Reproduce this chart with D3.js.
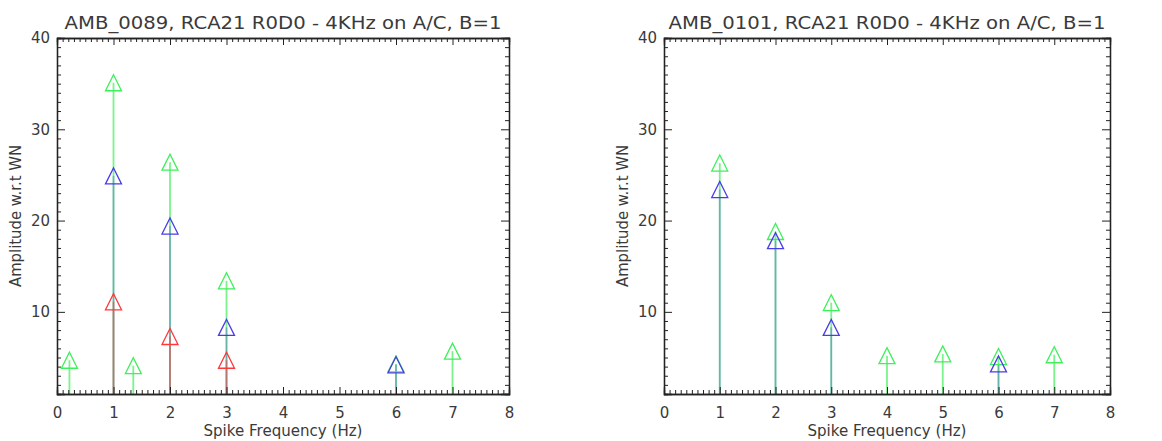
<!DOCTYPE html>
<html><head><meta charset="utf-8">
<script src="https://cdn.jsdelivr.net/npm/d3@7"></script>
<style>
body{margin:0;background:#fff;}
text{font-family:"DejaVu Sans",sans-serif;fill:#3a3a3a;}
</style></head>
<body><svg id="c" width="1162" height="441"></svg>
<script>
// ---- data ----
const titles = ["AMB_0089, RCA21 R0D0 - 4KHz on A/C, B=1", "AMB_0101, RCA21 R0D0 - 4KHz on A/C, B=1"];
const xLabel = "Spike Frequency (Hz)";
const yLabel = "Amplitude w.r.t WN";
const xTicks = [0,1,2,3,4,5,6,7,8];
const yTicks = [10,20,30,40];
// left panel
const leftGreenX = [0.22, 1, 1.35, 2, 3, 6, 7];
const leftGreenY = [4.7, 35.1, 4.1, 26.4, 13.4, 4.3, 5.7];
const leftBlueX  = [1, 2, 3, 6];
const leftBlueY  = [24.9, 19.4, 8.3, 4.2];
const leftRedX   = [1, 2, 3];
const leftRedY   = [11.1, 7.3, 4.7];
// right panel
const rightGreenX = [1, 2, 3, 4, 5, 6, 7];
const rightGreenY = [26.3, 18.8, 11.0, 5.2, 5.4, 5.1, 5.3];
const rightBlueX  = [1, 2, 3, 6];
const rightBlueY  = [23.4, 17.8, 8.3, 4.3];

(function(){
const colors = {green:"#3ef05a", blue:"#4a3ce8", red:"#ff3838"};
const stemOp = {green:0.7, blue:0.35, red:0.5};

const panels = [
  {x0:57, x1:509, title:titles[0], series:[
    {k:"green", xs:leftGreenX, ys:leftGreenY},
    {k:"blue", xs:leftBlueX, ys:leftBlueY},
    {k:"red", xs:leftRedX, ys:leftRedY}]},
  {x0:664, x1:1110, title:titles[1], series:[
    {k:"green", xs:rightGreenX, ys:rightGreenY},
    {k:"blue", xs:rightBlueX, ys:rightBlueY}]}
];
const yTop=38, yBot=394;
const svg = d3.select("#c");
const axisCol = "#222";

panels.forEach(p=>{
  const g = svg.append("g");
  const x = d3.scaleLinear().domain([0,8]).range([p.x0,p.x1]);
  const y = d3.scaleLinear().domain([1,40]).range([yBot,yTop]);
  const minorX = d3.range(0,80).map(d=>d/10).filter(d=>Math.abs(d-Math.round(d))>1e-6);
  const minorY = d3.range(1,41).filter(d=>d%10!==0);

  p.series.forEach(s=>{
    g.append("g").selectAll("line").data(s.xs.map((v,i)=>[v,s.ys[i]])).join("line")
      .attr("x1",d=>x(d[0])).attr("x2",d=>x(d[0]))
      .attr("y1",y(1)).attr("y2",d=>y(d[1]))
      .attr("stroke",colors[s.k]).attr("stroke-width",1.8).attr("stroke-opacity",stemOp[s.k]);
  });
  p.series.forEach(s=>{
    g.append("g").selectAll("path").data(s.xs.map((v,i)=>[v,s.ys[i]])).join("path")
      .attr("d",d=>{const cx=x(d[0]), cy=y(d[1]), h=8; return `M${cx-h},${cy+h}L${cx},${cy-h}L${cx+h},${cy+h}Z`;})
      .attr("fill","none").attr("stroke",colors[s.k]).attr("stroke-width",1.3);
  });

  const mk = (axis, tr)=> g.append("g").attr("transform",tr).call(axis)
     .call(a=>a.select(".domain").attr("stroke",axisCol))
     .call(a=>a.selectAll(".tick line").attr("stroke",axisCol));
  mk(d3.axisBottom(x).tickValues(minorX).tickSize(-4).tickFormat(""), `translate(0,${yBot})`);
  const bx = mk(d3.axisBottom(x).tickValues(xTicks).tickSize(-7).tickPadding(13).tickFormat(d3.format("d")), `translate(0,${yBot})`);
  bx.selectAll("text").attr("font-size",15).attr("fill","#3a3a3a").attr("font-family","DejaVu Sans");
  mk(d3.axisTop(x).tickValues(minorX).tickSize(-4).tickFormat(""), `translate(0,${yTop})`);
  mk(d3.axisTop(x).tickValues(xTicks).tickSize(-7).tickFormat(""), `translate(0,${yTop})`);
  mk(d3.axisLeft(y).tickValues(minorY).tickSize(-4).tickFormat(""), `translate(${p.x0},0)`);
  const ly = mk(d3.axisLeft(y).tickValues(yTicks).tickSize(-8).tickPadding(7).tickFormat(d3.format("d")), `translate(${p.x0},0)`);
  ly.selectAll("text").attr("font-size",15).attr("fill","#3a3a3a").attr("font-family","DejaVu Sans");
  mk(d3.axisRight(y).tickValues(minorY).tickSize(-4).tickFormat(""), `translate(${p.x1},0)`);
  mk(d3.axisRight(y).tickValues(yTicks).tickSize(-8).tickFormat(""), `translate(${p.x1},0)`);
  g.selectAll(".domain").attr("stroke-width",1.3);

  const cx = (p.x0+p.x1)/2;
  g.append("text").attr("x",cx).attr("y",29).attr("text-anchor","middle")
    .attr("font-size",18).attr("textLength",437).attr("lengthAdjust","spacingAndGlyphs").text(p.title);
  g.append("text").attr("x",cx).attr("y",436).attr("text-anchor","middle")
    .attr("font-size",15).attr("textLength",159).attr("lengthAdjust","spacingAndGlyphs").text(xLabel);
  g.append("text").attr("transform",`translate(${p.x0-36},216) rotate(-90)`).attr("text-anchor","middle")
    .attr("font-size",15).attr("textLength",142).attr("lengthAdjust","spacingAndGlyphs").text(yLabel);
});
})();
</script></body></html>
